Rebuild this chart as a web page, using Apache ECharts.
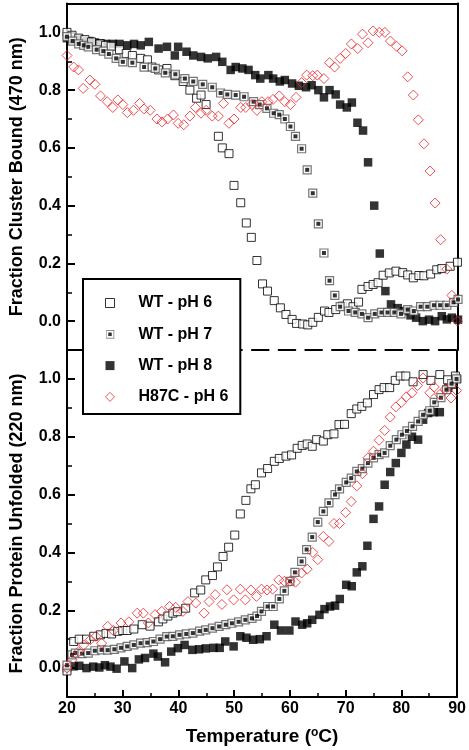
<!DOCTYPE html>
<html>
<head>
<meta charset="utf-8">
<script src="https://cdn.jsdelivr.net/npm/echarts@6/dist/echarts.min.js"></script>
<style>
html,body{margin:0;padding:0;background:#fff;}
#chart{width:469px;height:750px;}
</style>
</head>
<body>
<div id="chart"></div>
<script>
// ---------- DATA: [temperature (°C), fraction] ----------
const seriesNames = ['WT - pH 6', 'WT - pH 7', 'WT - pH 8', 'H87C - pH 6'];
const majorTicks = [0, 0.2, 0.4, 0.6, 0.8, 1.0];
const minorTicks = [0.1, 0.3, 0.5, 0.7, 0.9];

// Top panel: Fraction Cluster Bound (470 nm)
const wt6Top = [[20,1.0],[20.9,0.99],[22.1,0.98],[23.2,0.975],[24.4,0.967],[25.9,0.96],[26.9,0.955],[27.9,0.952],[29.4,0.94],[30.6,0.927],[31.7,0.92],[33.2,0.91],[34.4,0.905],[35.2,0.88],[36.4,0.87],[37.9,0.875],[39.3,0.85],[40.8,0.83],[42.0,0.80],[43.2,0.772],[44.0,0.783],[44.9,0.75],[47.1,0.64],[47.8,0.60],[49.0,0.58],[49.9,0.47],[51.1,0.41],[52.1,0.34],[53.0,0.29],[54.0,0.21],[55.0,0.129],[55.9,0.104],[57.1,0.071],[58.2,0.046],[59.2,0.023],[60.3,0.006],[61.1,-0.008],[62.2,-0.01],[63.1,-0.013],[64.0,-0.004],[65.0,0.013],[66.1,0.035],[66.9,0.03],[68.1,0.04],[69.3,0.052],[70.2,0.06],[71.2,0.05],[72.2,0.066],[72.8,0.11],[73.9,0.12],[74.8,0.127],[75.7,0.133],[76.6,0.159],[77.7,0.167],[78.9,0.173],[80.1,0.168],[81.0,0.16],[82.0,0.15],[83.0,0.158],[83.9,0.157],[85.1,0.163],[86.2,0.178],[87.1,0.182],[88.6,0.19],[89.9,0.204]];
const wt7Top = [[20,0.985],[21,0.97],[22.1,0.96],[23,0.955],[23.8,0.95],[25.3,0.94],[26.5,0.935],[27.5,0.925],[28.8,0.91],[30,0.898],[31.7,0.895],[33.8,0.88],[35.8,0.875],[37.6,0.86],[39.4,0.855],[41.1,0.84],[42.6,0.83],[44.3,0.82],[46,0.81],[47.5,0.79],[48.7,0.785],[50.2,0.783],[51.7,0.777],[53.4,0.76],[54.5,0.75],[55.8,0.737],[57.0,0.72],[58.0,0.715],[59.0,0.70],[60.0,0.674],[60.9,0.64],[62.0,0.597],[63.0,0.524],[64.0,0.443],[65.0,0.337],[66.0,0.236],[67.0,0.14],[67.95,0.089],[68.9,0.05],[70.4,0.035],[71.6,0.03],[72.8,0.025],[73.9,0.012],[75.1,0.025],[76.3,0.03],[77.4,0.03],[78.6,0.03],[79.8,0.025],[81.0,0.04],[82.1,0.035],[83.3,0.05],[84.5,0.05],[85.7,0.055],[86.8,0.055],[88.0,0.055],[89.2,0.065],[90,0.075]];
const wt8Top = [[20,0.98],[21,0.975],[22,0.975],[23,0.97],[24,0.97],[25,0.965],[26,0.962],[27,0.96],[28.2,0.96],[29.4,0.96],[30.8,0.955],[32.0,0.96],[33.2,0.955],[34.65,0.967],[36.4,0.944],[37.9,0.95],[39.3,0.92],[39.9,0.95],[41.4,0.933],[42.6,0.92],[44.0,0.915],[45.2,0.91],[46.7,0.915],[47.8,0.898],[49.3,0.87],[50.2,0.88],[51.4,0.875],[52.5,0.87],[53.7,0.852],[54.6,0.84],[56.05,0.852],[56.9,0.84],[58.1,0.83],[59.0,0.835],[60.3,0.823],[61.5,0.815],[62.8,0.81],[63.8,0.817],[65.0,0.80],[66.0,0.775],[67.0,0.80],[68.1,0.785],[68.9,0.75],[70.1,0.74],[71.0,0.757],[72.0,0.687],[73.0,0.66],[73.9,0.55],[75.0,0.40],[76.0,0.234],[77.0,0.104],[78.0,0.058],[79.2,0.045],[80.4,0.035],[81.5,0.02],[82.5,0.012],[83.7,0.0],[84.8,0.005],[85.9,0.0],[87.1,0.017],[88.0,0.006],[88.9,0.012],[90,0.005]];
const h87Top = [[20,0.92],[21.2,0.88],[22.05,0.87],[22.9,0.806],[24.1,0.835],[25,0.82],[26,0.78],[27.2,0.76],[28.2,0.74],[29.1,0.766],[30,0.75],[30.8,0.722],[31.9,0.73],[33,0.754],[33.8,0.735],[34.9,0.73],[36.1,0.70],[37,0.69],[38,0.70],[39.05,0.714],[39.9,0.685],[40.9,0.68],[42,0.71],[43,0.74],[44,0.72],[44.9,0.73],[46,0.71],[47.1,0.71],[48,0.754],[49,0.685],[49.9,0.70],[51.1,0.74],[52,0.74],[53.1,0.75],[54,0.73],[54.9,0.76],[56,0.76],[56.9,0.768],[58,0.78],[59,0.76],[60,0.75],[61,0.775],[62,0.826],[62.9,0.852],[64,0.85],[64.8,0.852],[66,0.84],[67,0.895],[67.9,0.88],[68.9,0.91],[69.9,0.927],[70.9,0.96],[72.05,0.944],[72.9,0.994],[73.9,0.964],[74.8,1.005],[75.9,1.0],[76.9,1.0],[77.9,0.97],[79,0.952],[80,0.936],[81,0.846],[82,0.783],[82.9,0.697],[83.9,0.614],[85,0.52],[85.9,0.409],[86.9,0.282],[88,0.18],[88.9,0.089],[89.9,0.0]];

// Bottom panel: Fraction Protein Unfolded (220 nm)
const wt6Bot = [[20,-0.01],[21.2,0.092],[22.2,0.10],[23.5,0.10],[24.8,0.11],[26,0.115],[27,0.12],[28,0.118],[29.1,0.127],[30,0.13],[30.8,0.13],[32,0.135],[33.5,0.15],[34.9,0.145],[36.4,0.16],[37.2,0.17],[38.1,0.18],[39,0.19],[39.8,0.195],[41.3,0.207],[42.9,0.26],[44.0,0.27],[44.9,0.305],[46.1,0.32],[47.0,0.35],[48.0,0.386],[49.0,0.418],[50.1,0.46],[51.1,0.533],[52.1,0.58],[53.0,0.62],[53.8,0.634],[54.9,0.675],[56.0,0.69],[57.2,0.715],[58.1,0.725],[59.3,0.733],[60.3,0.737],[61.3,0.76],[62.2,0.77],[63.1,0.775],[64,0.767],[64.8,0.79],[66,0.785],[66.8,0.807],[67.9,0.81],[68.8,0.842],[69.8,0.843],[71,0.88],[72,0.896],[72.9,0.905],[73.9,0.917],[75,0.946],[76,0.963],[76.9,0.97],[77.9,0.97],[78.9,0.995],[79.8,1.01],[80.8,1.01],[82.1,0.99],[83.9,1.015],[85.3,0.995],[86.9,1.015],[88.3,0.997],[89.7,1.01]];
const wt7Bot = [[20,0.01],[20.9,0.046],[21.5,0.052],[22.7,0.05],[23.8,0.052],[25,0.06],[26.2,0.063],[27.3,0.062],[28.5,0.065],[29.7,0.07],[30.8,0.075],[32,0.08],[33.2,0.086],[34.4,0.088],[35.5,0.092],[36.7,0.1],[37.9,0.109],[39,0.11],[40.2,0.115],[41.4,0.118],[42.6,0.121],[43.8,0.128],[44.9,0.132],[46.1,0.138],[47.3,0.144],[48.5,0.15],[49.6,0.155],[50.8,0.16],[52,0.167],[53.2,0.172],[54.1,0.18],[54.9,0.196],[56,0.213],[57,0.213],[58.1,0.239],[59,0.267],[60,0.30],[60.9,0.331],[62.1,0.369],[63,0.41],[64,0.453],[65,0.505],[66,0.542],[67,0.571],[68.1,0.60],[68.9,0.62],[70.1,0.642],[71,0.657],[72,0.68],[73,0.69],[74,0.709],[75,0.727],[76,0.738],[77,0.744],[78,0.769],[79.1,0.79],[80.1,0.807],[81,0.82],[82,0.836],[83,0.853],[83.9,0.876],[85.1,0.89],[85.9,0.919],[87.1,0.935],[88.1,0.963],[89,0.984],[89.9,1.0]];
const wt8Bot = [[20,0.0],[21.2,0.006],[22.2,0.008],[23.5,0.0],[24.7,0.005],[25.8,0.002],[26.8,0.01],[27.8,0.005],[28.9,-0.002],[30.3,0.023],[31.7,0.0],[32.9,0.03],[34,0.035],[35.5,0.05],[36.3,0.04],[37.6,0.02],[38.7,0.057],[39.9,0.069],[41.1,0.08],[42.5,0.063],[43.7,0.065],[44.9,0.068],[46.3,0.07],[47.4,0.07],[48.4,0.092],[49.9,0.075],[51.1,0.11],[52.2,0.105],[53.4,0.098],[54.6,0.1],[55.8,0.11],[57.2,0.15],[58.4,0.13],[59.9,0.13],[61,0.161],[62.2,0.15],[63.1,0.155],[64,0.167],[65.3,0.184],[66.2,0.204],[67.2,0.213],[68.1,0.216],[68.95,0.239],[70.1,0.288],[71.1,0.283],[72,0.331],[73,0.352],[73.9,0.423],[75,0.516],[76,0.559],[77,0.634],[78,0.678],[79,0.709],[80,0.744],[80.9,0.773],[81.9,0.80],[83,0.79],[83.9,0.859],[84.8,0.882],[85.8,0.885],[86.9,0.885],[88.4,0.969],[89.3,0.98],[90,1.0]];
const h87Bot = [[20,0.0],[20.9,0.029],[22.1,0.057],[23,0.08],[24.2,0.098],[25.2,0.11],[26.2,0.086],[27.3,0.144],[28.3,0.13],[29.7,0.156],[31.1,0.16],[32.6,0.19],[33.7,0.19],[34.6,0.156],[35.8,0.185],[37,0.196],[38.4,0.213],[39.5,0.21],[40.8,0.196],[41.7,0.23],[43.1,0.225],[44.6,0.19],[45.5,0.23],[46.6,0.254],[47.8,0.22],[48.7,0.271],[49.9,0.236],[51.1,0.273],[52,0.236],[53,0.27],[54,0.248],[54.9,0.273],[55.9,0.27],[56.9,0.273],[58,0.305],[59,0.30],[60,0.30],[61,0.297],[62.1,0.329],[63.1,0.342],[64.1,0.40],[65,0.375],[66,0.455],[67,0.438],[67.9,0.50],[68.9,0.50],[70,0.538],[71,0.576],[72,0.63],[73,0.672],[74,0.727],[75,0.75],[76,0.788],[77,0.822],[78,0.868],[79,0.903],[80,0.919],[80.9,0.938],[81.9,0.952],[82.9,0.977],[83.9,1.003],[85.1,0.952],[85.9,0.972],[86.9,0.946],[87.9,0.965],[88.9,0.934],[89.9,0.96]];

// ---------- STYLE ----------
const FONT = '"Liberation Sans", Arial, Helvetica, sans-serif';
const RED = '#e8262a';
const GRAYRING = '#555555';

const ph7Svg = "<svg xmlns='http://www.w3.org/2000/svg' width='18' height='18' viewBox='0 0 18 18'>" +
  "<rect x='1' y='1' width='16' height='16' fill='white' stroke='" + GRAYRING + "' stroke-width='2'/>" +
  "<rect x='5.5' y='5.5' width='7' height='7' fill='black'/></svg>";
const ph7Icon = 'image://data:image/svg+xml;charset=utf-8,' + encodeURIComponent(ph7Svg);

const sty = {
  wt6: {symbol: 'rect', symbolSize: 8, itemStyle: {color: '#fff', borderColor: '#000', borderWidth: 1}},
  wt7: {symbol: 'rect', symbolSize: 8, itemStyle: {color: '#fff', borderColor: GRAYRING, borderWidth: 1.2}},
  wt7core: {symbol: 'rect', symbolSize: 4, itemStyle: {color: '#000'}},
  wt8: {symbol: 'rect', symbolSize: 8.5, itemStyle: {color: '#000'}},
  h87: {symbol: 'diamond', symbolSize: 10, itemStyle: {color: 'rgba(255,255,255,0)', borderColor: RED, borderWidth: 1}}
};

function sc(name, data, s, xi, yi, z) {
  return Object.assign({type: 'scatter', name: name, data: data, xAxisIndex: xi, yAxisIndex: yi,
    z: z, silent: true, emphasis: {disabled: true}}, JSON.parse(JSON.stringify(s)));
}

function yAxesFor(gridIndex, title) {
  const base = {gridIndex: gridIndex, type: 'value', min: -0.1, max: 1.1, splitLine: {show: false}};
  return [
    Object.assign({}, base, {
      position: 'left',
      axisLine: {show: true, onZero: false, lineStyle: {color: '#000', width: 2}},
      axisTick: {show: true, inside: true, length: 8, customValues: majorTicks, lineStyle: {color: '#000', width: 2}},
      axisLabel: {show: true, customValues: majorTicks, formatter: v => v.toFixed(1), margin: 6,
        color: '#000', fontSize: 16, fontWeight: 'bold', fontFamily: FONT},
      name: title, nameLocation: 'middle', nameGap: 41,
      nameTextStyle: {color: '#000', fontSize: 18, fontWeight: 'bold', fontFamily: FONT}
    }),
    Object.assign({}, base, {
      position: 'left',
      axisLine: {show: false},
      axisTick: {show: true, inside: true, length: 5, customValues: minorTicks, lineStyle: {color: '#000', width: 1.5}},
      axisLabel: {show: false}
    }),
    Object.assign({}, base, {
      position: 'right',
      axisLine: {show: true, onZero: false, lineStyle: {color: '#000', width: 2}},
      axisTick: {show: false}, axisLabel: {show: false}
    })
  ];
}

const option = {
  animation: false,
  backgroundColor: '#fff',
  grid: [
    {left: 60, right: 11, top: 3.5, height: 346.5},
    {left: 60, right: 11, top: 350, height: 347}
  ],
  xAxis: [
    {gridIndex: 0, type: 'value', min: 20, max: 90, interval: 10, position: 'bottom',
      axisLine: {show: true, onZero: false, lineStyle: {color: '#000', width: 2, type: [16.7, 10], dashOffset: 2}},
      axisTick: {show: false}, axisLabel: {show: false}, splitLine: {show: false}},
    {gridIndex: 0, type: 'value', min: 20, max: 90, interval: 10, position: 'top',
      axisLine: {show: true, onZero: false, lineStyle: {color: '#000', width: 2}},
      axisTick: {show: false}, axisLabel: {show: false}, splitLine: {show: false}},
    {gridIndex: 1, type: 'value', min: 20, max: 90, interval: 10, position: 'bottom',
      axisLine: {show: true, onZero: false, lineStyle: {color: '#000', width: 2}},
      axisTick: {show: true, inside: true, length: 7, lineStyle: {color: '#000', width: 2}},
      minorTick: {show: true, splitNumber: 2, length: 4, lineStyle: {color: '#000', width: 1.5}},
      axisLabel: {color: '#000', fontSize: 16, fontWeight: 'bold', fontFamily: FONT, margin: 4},
      splitLine: {show: false},
      name: 'Temperature ({sup|o}C)', nameLocation: 'middle', nameGap: 30,
      nameTextStyle: {color: '#000', fontSize: 19, fontWeight: 'bold', fontFamily: FONT, lineHeight: 20,
        rich: {sup: {fontSize: 12, fontWeight: 'bold', fontFamily: FONT, color: '#000', verticalAlign: 'top', lineHeight: 12}}}}
  ],
  yAxis: yAxesFor(0, 'Fraction Cluster Bound (470 nm)').concat(yAxesFor(1, 'Fraction Protein Unfolded (220 nm)')),
  legend: {
    orient: 'vertical', left: 83, top: 279,
    padding: [16, 12, 9, 22], itemGap: 15.3, itemWidth: 9, itemHeight: 9,
    backgroundColor: '#fff', borderColor: '#000', borderWidth: 2, borderRadius: 0,
    selectedMode: false,
    textStyle: {color: '#000', fontSize: 16, fontWeight: 'bold', fontFamily: FONT, padding: [0, 0, 0, 19]},
    data: [
      {name: seriesNames[0], icon: 'rect', itemStyle: {color: '#fff', borderColor: '#000', borderWidth: 1}},
      {name: seriesNames[1], icon: ph7Icon},
      {name: seriesNames[2], icon: 'rect', itemStyle: {color: '#000', borderWidth: 0}},
      {name: seriesNames[3], icon: 'diamond', itemStyle: {color: 'rgba(255,255,255,0)', borderColor: RED, borderWidth: 1}}
    ],
    z: 10
  },
  series: [
    sc(seriesNames[2], wt8Top, sty.wt8, 0, 0, 2),
    sc(seriesNames[0], wt6Top, sty.wt6, 0, 0, 3),
    sc(seriesNames[1], wt7Top, sty.wt7, 0, 0, 4),
    sc('WT - pH 7 (core)', wt7Top, sty.wt7core, 0, 0, 5),
    sc(seriesNames[3], h87Top, sty.h87, 0, 0, 6),
    sc(seriesNames[2], wt8Bot, sty.wt8, 2, 3, 2),
    sc(seriesNames[0], wt6Bot, sty.wt6, 2, 3, 3),
    sc(seriesNames[1], wt7Bot, sty.wt7, 2, 3, 4),
    sc('WT - pH 7 (core)', wt7Bot, sty.wt7core, 2, 3, 5),
    sc(seriesNames[3], h87Bot, sty.h87, 2, 3, 6)
  ]
};

const chart = echarts.init(document.getElementById('chart'), null, {renderer: 'canvas'});
chart.setOption(option);
</script>
</body>
</html>
